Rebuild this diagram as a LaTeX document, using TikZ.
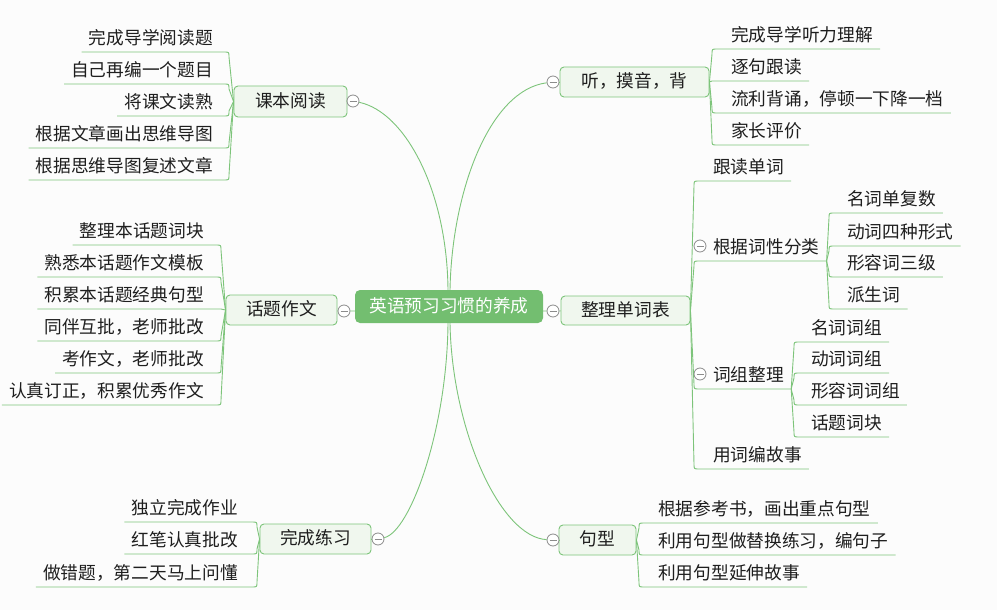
\documentclass[tikz,border=0pt]{standalone}
\usepackage{fontspec}
\setmainfont{Noto Sans CJK SC}
\usetikzlibrary{calc}
\definecolor{lg}{HTML}{7DC47A}
\definecolor{rootfill}{HTML}{73BE70}
\definecolor{boxfill}{HTML}{F0F7EE}
\definecolor{bgc}{HTML}{FCFCFC}
\definecolor{txt}{HTML}{1E1E1E}
\definecolor{cgray}{HTML}{8C8C8C}
\tikzset{
  br/.style={draw=lg, line width=0.9pt},
  topic/.style={draw=lg, fill=boxfill, rounded corners=4pt, line width=0.9pt, text=txt,
    inner sep=0pt, text height=1.2em, text depth=0.04em, align=center},
  rootbox/.style={fill=rootfill, rounded corners=5pt, text=white,
    inner sep=0pt, text height=1.2em, text depth=0.04em, align=center},
  leaf/.style={text=txt, inner xsep=7pt, inner ysep=7pt, text depth=0pt},
  leafL/.style={leaf, anchor=south east},
  leafR/.style={leaf, anchor=south west},
  circ/.style={circle, draw=cgray, fill=white, line width=0.8pt, minimum size=12pt, inner sep=0pt,
    path picture={\draw[cgray, line width=0.8pt] ([xshift=-3.5pt]path picture bounding box.center) -- ([xshift=3.5pt]path picture bounding box.center);}}
}
% #1 parent point, #2 corner x, #3 underline y, #4 dir, #5 name, #6 node x, #7 text
\newcommand\kidL[7]{%
  \node[leafL] (#5) at (#6,#3) {#7};
  \draw[br] (#1) -- (#2,{#3-5*(#4)}) .. controls (#2,#3) .. ({#2-5},#3) -- (#5.south west);
}
\newcommand\kidR[7]{%
  \node[leafR] (#5) at (#6,#3) {#7};
  \draw[br] (#1) -- (#2,{#3-5*(#4)}) .. controls (#2,#3) .. ({#2+5},#3) -- (#5.south east);
}
\begin{document}
\begin{tikzpicture}[x=1pt,y=-1pt,font=\fontsize{17.7}{20}\selectfont]
\useasboundingbox (0,0) rectangle (997,610);
\fill[bgc] (0,0) rectangle (997,610);

% main nodes
\node[rootbox, minimum width=188pt, minimum height=33pt] (root) at (449,306.5) {英语预习习惯的养成};
\node[topic, minimum width=113pt, minimum height=31pt] (b1) at (290.5,101.5) {课本阅读};
\node[topic, minimum width=149pt, minimum height=30pt] (b2) at (634.5,82) {听，摸音，背};
\node[topic, minimum width=111pt, minimum height=30pt] (b3) at (281.5,310) {话题作文};
\node[topic, minimum width=129pt, minimum height=29pt] (b4) at (625.5,310.5) {整理单词表};
\node[topic, minimum width=111pt, minimum height=30pt] (b5) at (315.5,539) {完成练习};
\node[topic, minimum width=77pt, minimum height=30pt] (b6) at (597.5,540) {句型};

% collapse circles
\node[circ] (c1) at (353,101) {};
\node[circ] (c2) at (553,82) {};
\node[circ] (c3) at (344,311) {};
\node[circ] (c4) at (553,311) {};
\node[circ] (c5) at (378,539) {};
\node[circ] (c6) at (553,540) {};

% main connectors
\draw[br] (b1) -- (c1);
\draw[br] ([xshift=-1pt]root.north) .. controls (447,190) and (405,112) .. (c1);
\draw[br] (b2) -- (c2);
\draw[br] ([xshift=1pt]root.north) .. controls (452,190) and (490,90) .. (c2);
\draw[br] (b3) -- (c3) -- (c3 -| root.west);
\draw[br] (root.east |- c4) -- (c4) -- (b4);
\draw[br] (b5) -- (c5);
\draw[br] ([xshift=-1pt]root.south) .. controls (447,430) and (410,532) .. (c5);
\draw[br] (b6) -- (c6);
\draw[br] ([xshift=1pt]root.south) .. controls (452,430) and (500,537) .. (c6);

% 课本阅读
\kidL{b1.west}{229}{52}{-1}{k1a}{220}{完成导学阅读题}
\kidL{b1.west}{229}{84}{-1}{k1b}{220}{自己再编一个题目}
\kidL{b1.west}{229}{116}{1}{k1c}{220}{将课文读熟}
\kidL{b1.west}{229}{148}{1}{k1d}{220}{根据文章画出思维导图}
\kidL{b1.west}{229}{180}{1}{k1e}{220}{根据思维导图复述文章}

% 话题作文
\kidL{b3.west}{221}{245}{-1}{k3a}{211}{整理本话题词块}
\kidL{b3.west}{221}{277}{-1}{k3b}{211}{熟悉本话题作文模板}
\kidL{b3.west}{221}{309}{0}{k3c}{211}{积累本话题经典句型}
\kidL{b3.west}{221}{341}{1}{k3d}{211}{同伴互批，老师批改}
\kidL{b3.west}{221}{373}{1}{k3e}{211}{考作文，老师批改}
\kidL{b3.west}{221}{405}{1}{k3f}{211}{认真订正，积累优秀作文}

% 完成练习
\kidL{b5.west}{257}{522}{-1}{k5a}{245}{独立完成作业}
\kidL{b5.west}{257}{554}{1}{k5b}{245}{红笔认真批改}
\kidL{b5.west}{257}{587}{1}{k5c}{245}{做错题，第二天马上问懂}

% 听，摸音，背
\kidR{b2.east}{712}{49}{-1}{k2a}{724}{完成导学听力理解}
\kidR{b2.east}{712}{81}{0}{k2b}{724}{逐句跟读}
\kidR{b2.east}{712}{113}{1}{k2c}{724}{流利背诵，停顿一下降一档}
\kidR{b2.east}{712}{145}{1}{k2d}{724}{家长评价}

% 整理单词表
\kidR{b4.east}{694}{181}{-1}{k4a}{706}{跟读单词}
\kidR{b4.east}{694}{261}{-1}{k4b}{706}{根据词性分类}
\kidR{b4.east}{694}{389}{1}{k4c}{706}{词组整理}
\kidR{b4.east}{694}{469}{1}{k4d}{706}{用词编故事}
\node[circ] (c7) at (700,246) {};
\node[circ] (c8) at (700,374) {};

\kidR{k4b.south east}{829}{213}{-1}{k4ba}{840}{名词单复数}
\kidR{k4b.south east}{829}{246}{-1}{k4bb}{840}{动词四种形式}
\kidR{k4b.south east}{829}{277}{1}{k4bc}{840}{形容词三级}
\kidR{k4b.south east}{829}{309}{1}{k4bd}{840}{派生词}

\kidR{k4c.south east}{794}{342}{-1}{k4ca}{804}{名词词组}
\kidR{k4c.south east}{794}{373}{-1}{k4cb}{804}{动词词组}
\kidR{k4c.south east}{794}{405}{1}{k4cc}{804}{形容词词组}
\kidR{k4c.south east}{794}{437}{1}{k4cd}{804}{话题词块}

% 句型
\kidR{b6.east}{639}{523}{-1}{k6a}{651}{根据参考书，画出重点句型}
\kidR{b6.east}{639}{555}{1}{k6b}{651}{利用句型做替换练习，编句子}
\kidR{b6.east}{639}{587}{1}{k6c}{651}{利用句型延伸故事}
\end{tikzpicture}
\end{document}
